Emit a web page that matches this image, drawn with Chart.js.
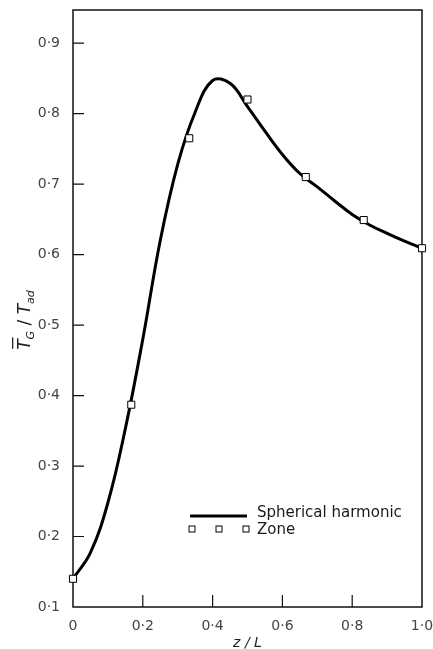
<!DOCTYPE html>
<html>
<head>
<meta charset="utf-8">
<script src="https://cdn.jsdelivr.net/npm/chart.js@4.4.1/dist/chart.umd.min.js"></script>
<style>
  html, body { margin: 0; padding: 0; background: #fff; }
  #wrap { position: relative; width: 433px; height: 649px; }
</style>
</head>
<body>
<div id="wrap"><canvas id="chart"></canvas></div>
<script>
  "use strict";

  // spherical harmonic solution, read along z/L
  const curveZ = [0, 0.05, 0.1, 0.15, 0.2, 0.25, 0.3, 0.35, 0.4, 0.45, 0.5,
    0.55, 0.6, 0.65, 0.7, 0.75, 0.8, 0.85, 0.9, 0.95, 1.0];
  const curveT = [0.14, 0.177, 0.248, 0.353, 0.48, 0.62, 0.728, 0.802, 0.847, 0.843, 0.81,
    0.775, 0.742, 0.715, 0.696, 0.676, 0.657, 0.642, 0.63, 0.619, 0.609];

  // zone method results
  const zoneZ = [0, 0.167, 0.333, 0.5, 0.667, 0.833, 1.0];
  const zoneT = [0.14, 0.387, 0.765, 0.82, 0.71, 0.649, 0.609];

  const xTicks = [0, 0.2, 0.4, 0.6, 0.8, 1.0];
  const yTicks = [0.1, 0.2, 0.3, 0.4, 0.5, 0.6, 0.7, 0.8, 0.9];
  const legendLabels = ["Spherical harmonic", "Zone"];

  const FONT = "'DejaVu Sans', sans-serif";
  const fmt = (v) => (v === 0 ? "0" : v.toFixed(1).replace(".", "\u00b7"));
  const toPoints = (xs, ys) => xs.map((x, i) => ({ x: x, y: ys[i] }));

  // box round the plot plus inward tick marks
  const framePlugin = {
    id: "frame",
    beforeDatasetsDraw(chart) {
      const { ctx, chartArea: a, scales } = chart;
      ctx.save();
      ctx.strokeStyle = "#111";
      ctx.lineWidth = 1.5;
      ctx.strokeRect(a.left, a.top, a.right - a.left, a.bottom - a.top);
      ctx.lineWidth = 1.2;
      ctx.beginPath();
      xTicks.slice(1, -1).forEach((v) => {
        const px = scales.x.getPixelForValue(v);
        ctx.moveTo(px, a.bottom);
        ctx.lineTo(px, a.bottom - 12);
      });
      yTicks.slice(1).forEach((v) => {
        const py = scales.y.getPixelForValue(v);
        ctx.moveTo(a.left, py);
        ctx.lineTo(a.left + 11, py);
      });
      ctx.stroke();
      ctx.restore();
    },
    afterDraw(chart) {
      const ctx = chart.ctx;
      ctx.save();

      // y axis title: T-bar_G / T_ad, rotated
      ctx.translate(24, 320);
      ctx.rotate(-Math.PI / 2);
      ctx.fillStyle = "#222";
      ctx.textBaseline = "alphabetic";
      const big = "italic 17px " + FONT;
      const small = "italic 11px " + FONT;
      const parts = [
        { t: "T", f: big, dy: 0, bar: true },
        { t: "G", f: small, dy: 4 },
        { t: " / ", f: "17px " + FONT, dy: 0 },
        { t: "T", f: big, dy: 0 },
        { t: "ad", f: small, dy: 4 },
      ];
      let w = 0;
      parts.forEach((p) => { ctx.font = p.f; p.w = ctx.measureText(p.t).width; w += p.w; });
      let x = -w / 2;
      parts.forEach((p) => {
        ctx.font = p.f;
        ctx.fillText(p.t, x, 6 + p.dy);
        if (p.bar) {
          ctx.fillRect(x + 1, -12, p.w + 1, 1.3);
        }
        x += p.w;
      });
      ctx.restore();

      // legend
      ctx.save();
      ctx.strokeStyle = "#000";
      ctx.lineWidth = 3;
      ctx.beginPath();
      ctx.moveTo(190, 516);
      ctx.lineTo(247, 516);
      ctx.stroke();
      ctx.lineWidth = 1;
      ctx.fillStyle = "#fff";
      [192, 219, 246].forEach((cx) => {
        ctx.fillRect(cx - 3, 526, 6, 6);
        ctx.strokeRect(cx - 3, 526, 6, 6);
      });
      ctx.fillStyle = "#1a1a1a";
      ctx.font = "15px " + FONT;
      ctx.textBaseline = "middle";
      ctx.fillText(legendLabels[0], 257, 513);
      ctx.fillText(legendLabels[1], 257, 530);
      ctx.restore();
    },
  };

  new Chart(document.getElementById("chart").getContext("2d"), {
    type: "scatter",
    data: {
      datasets: [
        {
          label: legendLabels[1],
          data: toPoints(zoneZ, zoneT),
          pointStyle: "rect",
          pointRadius: 5,
          pointBackgroundColor: "#fff",
          pointBorderColor: "#000",
          pointBorderWidth: 1,
          showLine: false,
          clip: false,
          order: 0,
        },
        {
          label: legendLabels[0],
          data: toPoints(curveZ, curveT),
          showLine: true,
          borderColor: "#000",
          borderWidth: 3,
          pointRadius: 0,
          tension: 0.4,
          clip: false,
          order: 1,
        },
      ],
    },
    options: {
      responsive: true,
      maintainAspectRatio: false,
      animation: false,
      layout: { padding: { top: 10, right: 11, left: 0, bottom: 0 } },
      plugins: { legend: { display: false }, tooltip: { enabled: false } },
      scales: {
        x: {
          type: "linear",
          min: 0,
          max: 1.0,
          afterBuildTicks: (s) => { s.ticks = xTicks.map((v) => ({ value: v })); },
          afterFit: (s) => {
            s.height = 42;
            s.paddingLeft = 0;
            s.paddingRight = 0;
          },
          grid: { display: false },
          border: { display: false },
          ticks: {
            callback: (v) => fmt(v),
            color: "#444",
            font: { family: FONT, size: 14 },
            padding: 3,
            maxRotation: 0,
            autoSkip: false,
          },
          title: {
            display: true,
            text: "z / L",
            color: "#222",
            font: { family: FONT, size: 14, style: "italic" },
            padding: { top: 0, bottom: -3 },
          },
        },
        y: {
          type: "linear",
          min: 0.1,
          max: 0.947,
          afterBuildTicks: (s) => { s.ticks = yTicks.map((v) => ({ value: v })); },
          afterFit: (s) => {
            s.width = 73;
            s.paddingTop = 0;
            s.paddingBottom = 0;
          },
          grid: { display: false },
          border: { display: false },
          ticks: {
            callback: (v) => fmt(v),
            color: "#444",
            font: { family: FONT, size: 14 },
            padding: 5,
            autoSkip: false,
          },
        },
      },
    },
    plugins: [framePlugin],
  });
</script>
</body>
</html>
